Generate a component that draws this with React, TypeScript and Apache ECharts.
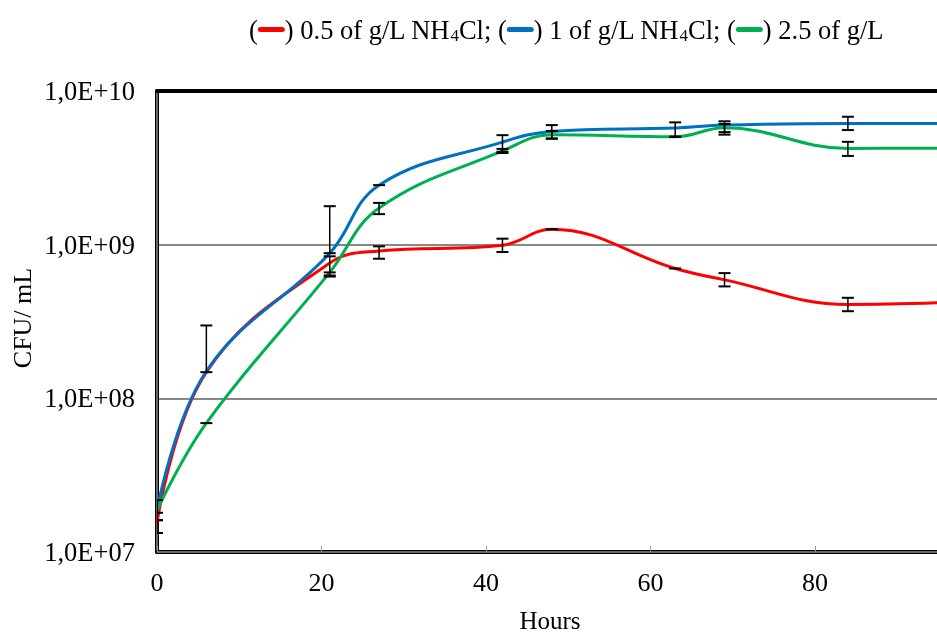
import React, { useEffect, useRef } from "react";
import * as echarts from "echarts";

const hours = [0, 6, 21, 27, 42, 48, 63, 69, 84, 96];
const red = [1.55e7, 1.48e8, 7.6e8, 9.1e8, 9.9e8, 1.26e9, 7.0e8, 5.9e8, 4.08e8, 4.2e8];
const blue = [1.87e7, 1.5e8, 8.8e8, 2.44e9, 4.65e9, 5.45e9, 5.75e9, 6.0e9, 6.15e9, 6.15e9];
const green = [1.87e7, 6.9e7, 6.6e8, 1.73e9, 4.07e9, 5.2e9, 5.04e9, 5.77e9, 4.23e9, 4.25e9];

const redLow = [1.33e7, null, 6.3e8, 8.1e8, 8.96e8, 1.26e9, 7.0e8, 5.35e8, 3.69e8, null];
const redHigh = [1.8e7, null, 8.4e8, 9.75e8, 1.094e9, 1.26e9, 7.0e8, 6.53e8, 4.51e8, null];
const blueLow = [1.61e7, 1.48e8, 8.8e8, 2.44e9, 4.02e9, 4.9e9, 5.04e9, 5.4e9, 5.57e9, null];
const blueHigh = [2.18e7, 2.98e8, 1.78e9, 2.44e9, 5.16e9, 6.0e9, 6.25e9, 6.35e9, 6.8e9, null];
const greenLow = [1.61e7, 6.9e7, 6.2e8, 1.58e9, 3.95e9, 4.9e9, 5.04e9, 5.2e9, 3.78e9, null];
const greenHigh = [2.18e7, 6.9e7, 6.6e8, 1.87e9, 4.2e9, 5.5e9, 5.04e9, 6.1e9, 4.67e9, null];

const xTickLabels = [0, 20, 40, 60, 80];

const FONT = "'Liberation Serif', 'Times New Roman', serif";

function pairs(vals: number[]) {
  return hours.map((h, i) => [h, vals[i]]);
}
function errData(lo: (number | null)[], hi: (number | null)[]) {
  const out: number[][] = [];
  hours.forEach((h, i) => {
    if (lo[i] != null && hi[i] != null) out.push([h, lo[i] as number, hi[i] as number]);
  });
  return out;
}

function renderErr(params: any, api: any) {
  const x = api.value(0);
  const pLo = api.coord([x, api.value(1)]);
  const pHi = api.coord([x, api.value(2)]);
  const cw = 6;
  const st = { stroke: "#000", lineWidth: 2 };
  const children: any[] = [
    { type: "line", shape: { x1: pLo[0] - cw, y1: pLo[1], x2: pLo[0] + cw, y2: pLo[1] }, style: st },
  ];
  if (Math.abs(pLo[1] - pHi[1]) > 0.5) {
    children.push({ type: "line", shape: { x1: pLo[0], y1: pLo[1], x2: pHi[0], y2: pHi[1] }, style: { stroke: "#000", lineWidth: 1.5 } });
    children.push({ type: "line", shape: { x1: pHi[0] - cw, y1: pHi[1], x2: pHi[0] + cw, y2: pHi[1] }, style: st });
  }
  return { type: "group", children };
}

export default function App() {
  const ref = useRef<HTMLDivElement>(null);
  useEffect(() => {
    if (!ref.current) return;
    const chart = echarts.init(ref.current, undefined, { renderer: "svg" });
    const lineSeries = (name: string, data: number[], color: string) => ({
      name,
      type: "line",
      data: pairs(data),
      smooth: 0.4,
      symbol: "none",
      lineStyle: { color, width: 3 },
      z: 3,
    });
    const errSeries = (lo: any[], hi: any[]) => ({
      type: "custom",
      renderItem: renderErr,
      data: errData(lo, hi),
      z: 4,
      clip: true,
    });
    chart.setOption({
      animation: false,
      textStyle: { fontFamily: FONT },
      grid: {
        left: 157,
        top: 91,
        bottom: 80,
        right: -42.5,
        containLabel: false,
        outerBoundsMode: "none",
      },
      xAxis: [
        {
          type: "value",
          min: 0,
          max: 100,
          interval: 20,
          position: "bottom",
          axisLine: { show: true, lineStyle: { color: "#000", width: 4 } },
          axisTick: { show: true, inside: true, length: 6, lineStyle: { color: "#999", width: 1 } },
          axisLabel: {
            fontFamily: FONT,
            fontSize: 26,
            color: "#000",
            margin: 17,
            formatter: (v: number) => (xTickLabels.includes(v) ? String(v) : ""),
          },
          splitLine: { show: false },
        },
        {
          type: "value",
          min: 0,
          max: 100,
          position: "bottom",
          axisLine: { show: true, lineStyle: { color: "#888", width: 1.5 } },
          axisTick: { show: false },
          axisLabel: { show: false },
          splitLine: { show: false },
        },
        {
          type: "value",
          min: 0,
          max: 100,
          position: "top",
          axisLine: { show: true, lineStyle: { color: "#000", width: 4 } },
          axisTick: { show: false },
          axisLabel: { show: false },
          splitLine: { show: false },
        },
      ],
      yAxis: [
        {
          type: "log",
          logBase: 10,
          min: 1e7,
          max: 1e10,
          axisLine: { show: true, lineStyle: { color: "#000", width: 4 } },
          axisTick: { show: false },
          axisLabel: {
            fontFamily: FONT,
            fontSize: 26.5,
            color: "#000",
            margin: 22,
            formatter: (v: number) => {
              const e = Math.round(Math.log10(v));
              return "1,0E+" + (e < 10 ? "0" : "") + e;
            },
          },
          splitLine: { show: true, lineStyle: { color: "#888", width: 2 } },
        },
        {
          type: "log",
          logBase: 10,
          min: 1e7,
          max: 1e10,
          position: "left",
          axisLine: { show: true, lineStyle: { color: "#888", width: 1.5 } },
          axisTick: { show: false },
          axisLabel: { show: false },
          splitLine: { show: false },
        },
      ],
      graphic: [
        {
          type: "text",
          left: 249,
          top: 16,
          style: {
            text:
              "({r| }) 0.5 of g/L NH{s|4}Cl; ({b| }) 1 of g/L NH{s|4}Cl; ({g| }) 2.5 of g/L",
            font: `26.5px ${FONT}`,
            fill: "#000",
            rich: {
              r: { width: 27, height: 5, backgroundColor: "#FF0000", borderRadius: 2.5 },
              b: { width: 27, height: 5, backgroundColor: "#0070C0", borderRadius: 2.5 },
              g: { width: 27, height: 5, backgroundColor: "#00B050", borderRadius: 2.5 },
              s: { fontSize: 17, fontFamily: FONT, padding: [12, 0, 0, 0] },
            },
          },
        },
        {
          type: "text",
          x: 22,
          y: 318,
          rotation: Math.PI / 2,
          style: {
            text: "CFU/ mL",
            font: `26px ${FONT}`,
            fill: "#000",
            align: "center",
            verticalAlign: "middle",
          },
        },
        {
          type: "text",
          x: 550,
          y: 620,
          style: {
            text: "Hours",
            font: `25px ${FONT}`,
            fill: "#000",
            align: "center",
            verticalAlign: "middle",
          },
        },
      ],
      series: [
        lineSeries("0.5 of g/L NH4Cl", red, "#FF0000"),
        lineSeries("1 of g/L NH4Cl", blue, "#0070C0"),
        lineSeries("2.5 of g/L", green, "#00B050"),
        errSeries(redLow, redHigh),
        errSeries(blueLow, blueHigh),
        errSeries(greenLow, greenHigh),
      ],
    });
    return () => chart.dispose();
  }, []);
  return (
    <div
      ref={ref}
      style={{ position: "fixed", left: 0, top: 0, width: 937, height: 632 }}
    />
  );
}
